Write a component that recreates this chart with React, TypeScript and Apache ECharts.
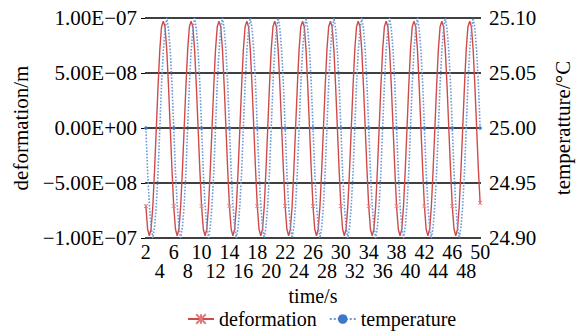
import React, { useEffect, useRef } from "react";
import * as echarts from "echarts";

// time stamps (s)
const time = [
  2, 2.25, 2.5, 2.75, 3, 3.25, 3.5, 3.75, 4, 4.25, 4.5, 4.75, 5, 5.25, 5.5, 5.75,
  6, 6.25, 6.5, 6.75, 7, 7.25, 7.5, 7.75, 8, 8.25, 8.5, 8.75, 9, 9.25, 9.5, 9.75,
  10, 10.25, 10.5, 10.75, 11, 11.25, 11.5, 11.75, 12, 12.25, 12.5, 12.75, 13, 13.25, 13.5, 13.75,
  14, 14.25, 14.5, 14.75, 15, 15.25, 15.5, 15.75, 16, 16.25, 16.5, 16.75, 17, 17.25, 17.5, 17.75,
  18, 18.25, 18.5, 18.75, 19, 19.25, 19.5, 19.75, 20, 20.25, 20.5, 20.75, 21, 21.25, 21.5, 21.75,
  22, 22.25, 22.5, 22.75, 23, 23.25, 23.5, 23.75, 24, 24.25, 24.5, 24.75, 25, 25.25, 25.5, 25.75,
  26, 26.25, 26.5, 26.75, 27, 27.25, 27.5, 27.75, 28, 28.25, 28.5, 28.75, 29, 29.25, 29.5, 29.75,
  30, 30.25, 30.5, 30.75, 31, 31.25, 31.5, 31.75, 32, 32.25, 32.5, 32.75, 33, 33.25, 33.5, 33.75,
  34, 34.25, 34.5, 34.75, 35, 35.25, 35.5, 35.75, 36, 36.25, 36.5, 36.75, 37, 37.25, 37.5, 37.75,
  38, 38.25, 38.5, 38.75, 39, 39.25, 39.5, 39.75, 40, 40.25, 40.5, 40.75, 41, 41.25, 41.5, 41.75,
  42, 42.25, 42.5, 42.75, 43, 43.25, 43.5, 43.75, 44, 44.25, 44.5, 44.75, 45, 45.25, 45.5, 45.75,
  46, 46.25, 46.5, 46.75, 47, 47.25, 47.5, 47.75, 48, 48.25, 48.5, 48.75, 49, 49.25, 49.5, 49.75,
  50,
];

// deformation in units of 1e-8 m
const deformation = [
  -7.1, -9.2, -9.8, -9.2, -7.1, -3.8, 0, 3.8, 7.1, 9.2, 9.7, 9.2, 7.1, 3.8, 0, -3.8,
  -7.1, -9.2, -9.8, -9.2, -7.1, -3.8, 0, 3.8, 7.1, 9.2, 9.7, 9.2, 7.1, 3.8, 0, -3.8,
  -7.1, -9.2, -9.8, -9.2, -7.1, -3.8, 0, 3.8, 7.1, 9.2, 9.7, 9.2, 7.1, 3.8, 0, -3.8,
  -7.1, -9.2, -9.8, -9.2, -7.1, -3.8, 0, 3.8, 7.1, 9.2, 9.7, 9.2, 7.1, 3.8, 0, -3.8,
  -7.1, -9.2, -9.8, -9.2, -7.1, -3.8, 0, 3.8, 7.1, 9.2, 9.7, 9.2, 7.1, 3.8, 0, -3.8,
  -7.1, -9.2, -9.8, -9.2, -7.1, -3.8, 0, 3.8, 7.1, 9.2, 9.7, 9.2, 7.1, 3.8, 0, -3.8,
  -7.1, -9.2, -9.8, -9.2, -7.1, -3.8, 0, 3.8, 7.1, 9.2, 9.7, 9.2, 7.1, 3.8, 0, -3.8,
  -7.1, -9.2, -9.8, -9.2, -7.1, -3.8, 0, 3.8, 7.1, 9.2, 9.7, 9.2, 7.1, 3.8, 0, -3.8,
  -7.1, -9.2, -9.8, -9.2, -7.1, -3.8, 0, 3.8, 7.1, 9.2, 9.7, 9.2, 7.1, 3.8, 0, -3.8,
  -7.1, -9.2, -9.8, -9.2, -7.1, -3.8, 0, 3.8, 7.1, 9.2, 9.7, 9.2, 7.1, 3.8, 0, -3.8,
  -7.1, -9.2, -9.8, -9.2, -7.1, -3.8, 0, 3.8, 7.1, 9.2, 9.7, 9.2, 7.1, 3.8, 0, -3.8,
  -7.1, -9.2, -9.8, -9.2, -7.1, -3.8, 0, 3.8, 7.1, 9.2, 9.7, 9.2, 7.1, 3.8, 0, -3.8,
  -6.8,
];

// temperature in °C
const temperature = [
  25.0, 24.96, 24.93, 24.91, 24.9, 24.91, 24.93, 24.96, 25.0, 25.04, 25.07, 25.09, 25.1, 25.09, 25.07, 25.04,
  25.0, 24.96, 24.93, 24.91, 24.9, 24.91, 24.93, 24.96, 25.0, 25.04, 25.07, 25.09, 25.1, 25.09, 25.07, 25.04,
  25.0, 24.96, 24.93, 24.91, 24.9, 24.91, 24.93, 24.96, 25.0, 25.04, 25.07, 25.09, 25.1, 25.09, 25.07, 25.04,
  25.0, 24.96, 24.93, 24.91, 24.9, 24.91, 24.93, 24.96, 25.0, 25.04, 25.07, 25.09, 25.1, 25.09, 25.07, 25.04,
  25.0, 24.96, 24.93, 24.91, 24.9, 24.91, 24.93, 24.96, 25.0, 25.04, 25.07, 25.09, 25.1, 25.09, 25.07, 25.04,
  25.0, 24.96, 24.93, 24.91, 24.9, 24.91, 24.93, 24.96, 25.0, 25.04, 25.07, 25.09, 25.1, 25.09, 25.07, 25.04,
  25.0, 24.96, 24.93, 24.91, 24.9, 24.91, 24.93, 24.96, 25.0, 25.04, 25.07, 25.09, 25.1, 25.09, 25.07, 25.04,
  25.0, 24.96, 24.93, 24.91, 24.9, 24.91, 24.93, 24.96, 25.0, 25.04, 25.07, 25.09, 25.1, 25.09, 25.07, 25.04,
  25.0, 24.96, 24.93, 24.91, 24.9, 24.91, 24.93, 24.96, 25.0, 25.04, 25.07, 25.09, 25.1, 25.09, 25.07, 25.04,
  25.0, 24.96, 24.93, 24.91, 24.9, 24.91, 24.93, 24.96, 25.0, 25.04, 25.07, 25.09, 25.1, 25.09, 25.07, 25.04,
  25.0, 24.96, 24.93, 24.91, 24.9, 24.91, 24.93, 24.96, 25.0, 25.04, 25.07, 25.09, 25.1, 25.09, 25.07, 25.04,
  25.0, 24.96, 24.93, 24.91, 24.9, 24.91, 24.93, 24.96, 25.0, 25.04, 25.07, 25.09, 25.1, 25.09, 25.07, 25.04,
  25.0,
];

const FONT = "'Liberation Serif', 'Times New Roman', serif";
const RED = "#d04a4a";
const BLUE = "#3f78c8";

function fmtE(v: number): string {
  const m = Math.round(v);
  if (m === 0) return "0.00E+00";
  const x = m * 1e-8;
  const e = Math.floor(Math.log10(Math.abs(x)) + 1e-9);
  const mant = x / Math.pow(10, e);
  return (
    (mant < 0 ? "\u2212" : "") +
    Math.abs(mant).toFixed(2) +
    "E" +
    (e < 0 ? "\u2212" : "+") +
    String(Math.abs(e)).padStart(2, "0")
  );
}

const labelBase = {
  margin: 4,
  fontFamily: FONT,
  fontSize: 20,
  lineHeight: 19,
  color: "#000",
  hideOverlap: false,
};

export default function App() {
  const ref = useRef<HTMLDivElement>(null);
  useEffect(() => {
    document.body.style.margin = "0";
    if (!ref.current) return;
    const chart = echarts.init(ref.current, null, { renderer: "svg" });
    const categories = time.map((t) => String(t));
    chart.setOption({
      animation: false,
      textStyle: { fontFamily: FONT },
      grid: { left: 145, right: 89, top: 18, bottom: 93, containLabel: false },
      legend: {
        top: 304,
        left: 182,
        itemWidth: 26,
        itemHeight: 12,
        itemGap: 12,
        textStyle: { fontFamily: FONT, fontSize: 20, lineHeight: 19, color: "#000" },
        data: ["deformation", "temperature"],
      },
      xAxis: [
        {
          type: "category",
          data: categories,
          boundaryGap: true,
          name: "time/s",
          nameLocation: "middle",
          nameGap: 48,
          nameTextStyle: { fontFamily: FONT, fontSize: 20, lineHeight: 19, color: "#000" },
          axisLine: { show: false },
          axisTick: { show: false },
          splitLine: { show: false },
          axisLabel: {
            ...labelBase,
            interval: (i: number) => i % 16 === 0,
          },
        },
        {
          type: "category",
          data: categories,
          boundaryGap: true,
          position: "bottom",
          offset: 19,
          axisLine: { show: false },
          axisTick: { show: false },
          splitLine: { show: false },
          axisLabel: {
            ...labelBase,
            interval: (i: number) => i % 16 === 8,
          },
        },
      ],
      yAxis: [
        {
          type: "value",
          min: -10,
          max: 10,
          interval: 5,
          name: "deformation/m",
          nameLocation: "middle",
          nameRotate: 90,
          nameGap: 96,
          nameTextStyle: { fontFamily: FONT, fontSize: 21, color: "#000" },
          axisLine: { show: false },
          axisTick: { show: true, length: 4, lineStyle: { color: "#000" } },
          splitLine: { show: true, lineStyle: { color: "#000", width: 1.5 } },
          axisLabel: {
            margin: 8,
            fontFamily: FONT,
            fontSize: 21,
            color: "#000",
            formatter: (v: number) => fmtE(v),
          },
        },
        {
          type: "value",
          position: "right",
          min: 24.9,
          max: 25.1,
          interval: 0.05,
          name: "temperatture/\u00B0C",
          nameLocation: "middle",
          nameRotate: 90,
          nameGap: 71,
          nameTextStyle: { fontFamily: FONT, fontSize: 21, color: "#000" },
          axisLine: { show: false },
          axisTick: { show: false },
          splitLine: { show: false },
          axisLabel: {
            margin: 8,
            fontFamily: FONT,
            fontSize: 21,
            color: "#000",
            formatter: (v: number) => v.toFixed(2),
          },
        },
      ],
      series: [
        {
          name: "deformation",
          type: "line",
          xAxisIndex: 0,
          yAxisIndex: 0,
          data: deformation,
          symbol: "path://M0,0L10,10M10,0L0,10M5,0L5,10",
          symbolSize: 4,
          showSymbol: true,
          lineStyle: { color: RED, width: 1.4 },
          itemStyle: { color: "none", borderColor: "#e07a7a", borderWidth: 1 },
          z: 2,
        },
        {
          name: "temperature",
          type: "line",
          xAxisIndex: 0,
          yAxisIndex: 1,
          data: temperature,
          symbol: "circle",
          symbolSize: 3.5,
          showSymbol: true,
          lineStyle: { color: "#6a9ad8", width: 1.6, type: "dotted" },
          itemStyle: { color: BLUE, borderWidth: 0 },
          z: 3,
        },
      ],
    });
    return () => chart.dispose();
  }, []);
  return <div ref={ref} style={{ width: 581, height: 331 }} />;
}
